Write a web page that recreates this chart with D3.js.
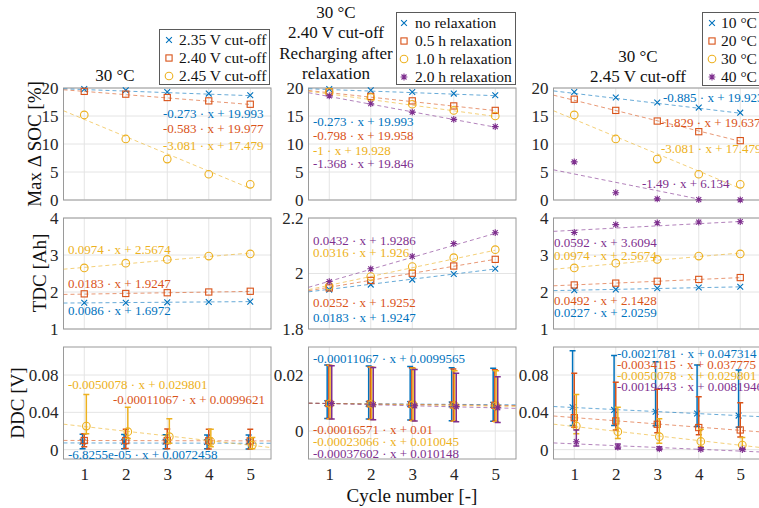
<!DOCTYPE html>
<html lang="en">
<head>
<meta charset="UTF-8">
<title>SOC, TDC and DDC per cycle</title>
<script src="https://d3js.org/d3.v7.min.js"></script>
<style>
    body { margin: 0; background: #fff; }
    text { font-family: "Liberation Serif", "Times New Roman", serif; }
</style>
</head>
<body>
<script>
    // ---- data ----
    const cycles = [1, 2, 3, 4, 5]

    const legendCutoff = ["2.35 V cut-off", "2.40 V cut-off", "2.45 V cut-off"]
    const legendRelax = ["no relaxation", "0.5 h relaxation", "1.0 h relaxation", "2.0 h relaxation"]
    const legendTemp = ["10 °C", "20 °C", "30 °C", "40 °C"]

    // Max delta SOC [%]
    const socCutoff = [
        [19.8, 19.6, 19.3, 19.0, 18.7],
        [19.4, 18.9, 18.3, 17.7, 17.1],
        [15.2, 10.9, 7.3, 4.6, 2.8]
    ]
    const socRelax = [
        [19.8, 19.6, 19.3, 19.0, 18.7],
        [19.3, 18.5, 17.7, 16.8, 16.0],
        [19.3, 18.3, 17.1, 16.0, 15.0],
        [18.6, 17.2, 15.7, 14.4, 13.1]
    ]
    const socTemp = [
        [19.3, 18.3, 17.4, 16.5, 15.6],
        [18.0, 16.0, 14.1, 12.2, 10.6],
        [15.2, 10.9, 7.3, 4.6, 2.8],
        [6.8, 1.3, 0.2, 0.05, 0.02]
    ]
    const socFitCutoff = [[-0.273, 19.993], [-0.583, 19.977], [-3.081, 17.479]]
    const socFitRelax = [[-0.273, 19.993], [-0.798, 19.958], [-1, 19.928], [-1.368, 19.846]]
    const socFitTemp = [[-0.885, 19.923], [-1.829, 19.637], [-3.081, 17.479], [-1.49, 6.134]]

    // TDC [Ah]
    const tdcCutoff = [
        [1.71, 1.71, 1.72, 1.73, 1.74],
        [1.95, 1.96, 1.98, 2.00, 2.02],
        [2.65, 2.78, 2.88, 2.97, 3.03]
    ]
    const tdcRelax = [
        [1.942, 1.960, 1.978, 1.998, 2.017],
        [1.948, 1.975, 2.001, 2.027, 2.051],
        [1.955, 1.989, 2.025, 2.057, 2.086],
        [1.971, 2.017, 2.062, 2.108, 2.147]
    ]
    const tdcTemp = [
        [2.05, 2.07, 2.10, 2.12, 2.14],
        [2.19, 2.24, 2.29, 2.34, 2.39],
        [2.65, 2.78, 2.88, 2.97, 3.03],
        [3.61, 3.82, 3.87, 3.89, 3.90]
    ]
    const tdcFitCutoff = [[0.0086, 1.6972], [0.0183, 1.9247], [0.0974, 2.5674]]
    const tdcFitRelax = [[0.0183, 1.9247], [0.0252, 1.9252], [0.0316, 1.926], [0.0432, 1.9286]]
    const tdcFitTemp = [[0.0227, 2.0259], [0.0492, 2.1428], [0.0974, 2.5674], [0.0592, 3.6094]]

    // DDC [V] with error bar ends
    const ddcCutoff = [
        [0.0085, 0.0084, 0.0085, 0.0083, 0.0082],
        [0.0098, 0.0097, 0.0096, 0.0095, 0.0094],
        [0.0253, 0.0193, 0.0139, 0.0088, 0.0050]
    ]
    const ddcCutoffLow = [
        [0.0010, 0.0011, 0.0010, 0.0009, 0.0008],
        [0.0030, 0.0012, 0.0010, 0.0008, 0.0006],
        [0.0170, 0.0120, 0.0070, 0.0030, 0.0010]
    ]
    const ddcCutoffHigh = [
        [0.0165, 0.0162, 0.0160, 0.0158, 0.0156],
        [0.0170, 0.0220, 0.0222, 0.0220, 0.0218],
        [0.0590, 0.0455, 0.0330, 0.0220, 0.0130]
    ]
    const ddcRelax = [
        [0.0099, 0.0097, 0.0096, 0.0095, 0.0094],
        [0.0098, 0.0097, 0.0095, 0.0093, 0.0092],
        [0.0098, 0.0096, 0.0094, 0.0091, 0.0089],
        [0.0098, 0.0094, 0.0090, 0.0087, 0.0083]
    ]
    const ddcRelaxLow = [
        [0.0045, 0.0043, 0.0039, 0.0037, 0.0035],
        [0.0045, 0.0042, 0.0038, 0.0036, 0.0035],
        [0.0044, 0.0041, 0.0037, 0.0035, 0.0033],
        [0.0043, 0.0040, 0.0036, 0.0033, 0.0030]
    ]
    const ddcRelaxHigh = [
        [0.0236, 0.0232, 0.0230, 0.0226, 0.0224],
        [0.0235, 0.0229, 0.0226, 0.0221, 0.0219],
        [0.0234, 0.0228, 0.0224, 0.0215, 0.0215],
        [0.0233, 0.0227, 0.0220, 0.0206, 0.0194]
    ]
    const ddcTemp = [
        [0.0454, 0.0426, 0.0407, 0.0388, 0.0365],
        [0.0343, 0.0308, 0.0272, 0.0237, 0.0211],
        [0.0253, 0.0193, 0.0139, 0.0088, 0.0050],
        [0.0085, 0.0027, 0.0009, 0.0004, 0.0002]
    ]
    const ddcTempLow = [
        [0.0260, 0.0258, 0.0255, 0.0248, 0.0240],
        [0.0240, 0.0210, 0.0180, 0.0160, 0.0135],
        [0.0170, 0.0120, 0.0070, 0.0030, 0.0010],
        [0.0040, 0.0010, 0.0002, 0.0000, 0.0000]
    ]
    const ddcTempHigh = [
        [0.1060, 0.1008, 0.0943, 0.0908, 0.0854],
        [0.0819, 0.0722, 0.0647, 0.0568, 0.0504],
        [0.0590, 0.0455, 0.0330, 0.0220, 0.0130],
        [0.0211, 0.0060, 0.0030, 0.0020, 0.0010]
    ]
    // small cycle offsets of the error bar series
    const ddcShiftSide = [-0.04, 0, 0.05, 0.05]
    const ddcShiftMid = [-0.05, -0.01, 0.02, 0.06]
    const ddcFitCutoff = [[-6.8255e-05, 0.0072458], [-0.00011067, 0.0099621], [-0.0050078, 0.029801]]
    const ddcFitRelax = [[-0.00011067, 0.0099565], [-0.00016571, 0.01], [-0.00023066, 0.010045], [-0.00037602, 0.010148]]
    const ddcFitTemp = [[-0.0021781, 0.047314], [-0.0034115, 0.037775], [-0.0050078, 0.029801], [-0.0019443, 0.0081946]]

    const socTicks = [0, 5, 10, 15, 20]
    const tdcTicks = [1, 2, 3, 4]
    const tdcTicksMid = [1.8, 2, 2.2]
    const ddcTicks = [0, 0.04, 0.08]
    const ddcTicksMid = [0, 0.02]

    // ---- layout ----
    const colors = ["#0072BD", "#D95319", "#EDB120", "#7E2F8E"]
    const markers = ["cross", "square", "circle", "asterisk"]
    const colX = [63.5, 308.5, 553.5]
    const plotW = 207.5
    const rowY = [[88, 200], [218, 329], [347, 459]]

    const svg = d3.select("body")
        .append("svg")
        .attr("width", 759)
        .attr("height", 508)

    const fmt = v => Math.abs(v) < 1e-4 ?
        v.toExponential(4).replace(/e([+-])(\d)$/, "e$10$2") : String(v)

    function drawMarker(g, type, cx, cy, color) {
        const m = g.append("g")
            .attr("transform", `translate(${cx},${cy})`)
            .attr("stroke", color)
            .attr("fill", "none")
            .attr("stroke-width", 1.1)
        if (type === "cross") m.append("path").attr("d", "M-2.9,-2.9L2.9,2.9M-2.9,2.9L2.9,-2.9")
        else if (type === "square") m.append("rect").attr("x", -3.1).attr("y", -3.1).attr("width", 6.2).attr("height", 6.2)
        else if (type === "circle") m.append("circle").attr("r", 3.8)
        else m.append("path").attr("d", "M0,-3.4V3.4M-3.4,0H3.4M-2.5,-2.5L2.5,2.5M-2.5,2.5L2.5,-2.5")
    }

    const panels = [
        {col: 0, row: 0, values: socCutoff, fits: socFitCutoff, domain: [0, 20], ticks: socTicks,
            notes: [[163, 117.5], [163, 132.5], [163, 149.5]]},
        {col: 1, row: 0, values: socRelax, fits: socFitRelax, domain: [0, 20], ticks: socTicks,
            notes: [[313, 125.5], [313, 139.5], [313, 154.5], [313, 167.5]]},
        {col: 2, row: 0, values: socTemp, fits: socFitTemp, domain: [0, 20], ticks: socTicks,
            notes: [[663, 101.5], [660, 126.5], [661, 152.5], [642, 187.5]]},
        {col: 0, row: 1, values: tdcCutoff, fits: tdcFitCutoff, domain: [1, 4], ticks: tdcTicks,
            notes: [[68, 314.5], [68, 287.5], [68, 253.5]]},
        {col: 1, row: 1, values: tdcRelax, fits: tdcFitRelax, domain: [1.8, 2.2], ticks: tdcTicksMid,
            notes: [[313, 321.5], [313, 306.5], [313, 256.5], [313, 244.5]]},
        {col: 2, row: 1, values: tdcTemp, fits: tdcFitTemp, domain: [1, 4], ticks: tdcTicks,
            notes: [[554, 316.5], [554, 304.5], [554, 259.5], [554, 246.5]]},
        {col: 0, row: 2, values: ddcCutoff, low: ddcCutoffLow, high: ddcCutoffHigh, shift: ddcShiftSide,
            fits: ddcFitCutoff, domain: [-0.01, 0.11], ticks: ddcTicks,
            notes: [[68, 458.5], [113, 403.5], [68, 388.5]]},
        {col: 1, row: 2, values: ddcRelax, low: ddcRelaxLow, high: ddcRelaxHigh, shift: ddcShiftMid,
            fits: ddcFitRelax, domain: [-0.01, 0.03], ticks: ddcTicksMid,
            notes: [[313, 362.5], [313, 433.5], [313, 445.5], [313, 457.5]]},
        {col: 2, row: 2, values: ddcTemp, low: ddcTempLow, high: ddcTempHigh, shift: ddcShiftSide,
            fits: ddcFitTemp, domain: [-0.01, 0.11], ticks: ddcTicks,
            notes: [[617, 357.5], [617, 368.5], [617, 379.5], [617, 390.5]]}
    ]

    panels.forEach((p, pi) => {
        const x0 = colX[p.col]
        const [yTop, yBottom] = rowY[p.row]
        const x = d3.scaleLinear().domain([0.5, 5.5]).range([x0, x0 + plotW])
        const y = d3.scaleLinear().domain(p.domain).range([yBottom, yTop])
        const g = svg.append("g")

        g.append("clipPath")
            .attr("id", "clip" + pi)
            .append("rect")
            .attr("x", x0).attr("y", yTop)
            .attr("width", plotW).attr("height", yBottom - yTop)

        // grid
        g.selectAll(".vgrid").data(cycles).enter().append("line")
            .attr("x1", d => x(d)).attr("x2", d => x(d))
            .attr("y1", yTop).attr("y2", yBottom)
            .attr("stroke", "#e4e4e4")
        g.selectAll(".hgrid").data(p.ticks).enter().append("line")
            .attr("x1", x0).attr("x2", x0 + plotW)
            .attr("y1", d => y(d)).attr("y2", d => y(d))
            .attr("stroke", "#e4e4e4")

        g.append("rect")
            .attr("x", x0).attr("y", yTop)
            .attr("width", plotW).attr("height", yBottom - yTop)
            .attr("fill", "none")
            .attr("stroke", "#9a9a9a")

        const yAxis = g.append("g")
            .attr("transform", `translate(${x0},0)`)
            .call(d3.axisLeft(y).tickValues(p.ticks).tickSize(0).tickPadding(5).tickFormat(d => String(d)))
        yAxis.select(".domain").remove()
        yAxis.selectAll("text")
            .attr("font-family", "Liberation Serif")
            .attr("font-size", 17)
            .attr("fill", "#262626")

        if (p.row === 2) {
            const xAxis = g.append("g")
                .attr("transform", `translate(0,${yBottom})`)
                .call(d3.axisBottom(x).tickValues(cycles).tickSize(0).tickPadding(9).tickFormat(d3.format("d")))
            xAxis.select(".domain").remove()
            xAxis.selectAll("text")
                .attr("font-family", "Liberation Serif")
                .attr("font-size", 17)
                .attr("fill", "#262626")
        }

        p.values.forEach((vals, si) => {
            const color = colors[si]
            const xEnd = p.row === 2 ? 5.5 : 5
            const [slope, icpt] = p.fits[si]

            g.append("line")
                .attr("clip-path", `url(#clip${pi})`)
                .attr("x1", x(0.5)).attr("y1", y(slope * 0.5 + icpt))
                .attr("x2", x(xEnd)).attr("y2", y(slope * xEnd + icpt))
                .attr("stroke", color)
                .attr("stroke-opacity", 0.6)
                .attr("stroke-dasharray", "4,3")

            vals.forEach((v, i) => {
                const cx = x(cycles[i] + (p.shift ? p.shift[si] : 0))
                if (p.low) {
                    const lo = y(p.low[si][i]), hi = y(p.high[si][i])
                    g.append("path")
                        .attr("d", `M${cx},${lo}V${hi}M${cx - 3},${lo}H${cx + 3}M${cx - 3},${hi}H${cx + 3}`)
                        .attr("stroke", color)
                        .attr("stroke-width", 1.5)
                        .attr("fill", "none")
                }
                drawMarker(g, markers[si], cx, y(v), color)
            })
        })

        p.notes.forEach((pos, si) => {
            const [slope, icpt] = p.fits[si]
            g.append("text")
                .attr("x", pos[0]).attr("y", pos[1])
                .attr("font-size", 13)
                .attr("fill", colors[si])
                .text(`${fmt(slope)} · x + ${fmt(icpt)}`)
        })
    })

    // titles
    const titleRows = [
        {x: 115, lines: [["30 °C", 81]]},
        {x: 336, lines: [["30 °C", 18], ["2.40 V cut-off", 38], ["Recharging after", 59], ["relaxation", 79]]},
        {x: 638, lines: [["30 °C", 62], ["2.45 V cut-off", 82]]}
    ]
    titleRows.forEach(t => t.lines.forEach(([s, ty]) => {
        svg.append("text")
            .attr("x", t.x).attr("y", ty)
            .attr("text-anchor", "middle")
            .attr("font-size", 17)
            .attr("fill", "#111")
            .text(s)
    }))

    // y labels
    const yLabels = [["Max Δ SOC [%]", 41, 144], ["TDC [Ah]", 46, 273], ["DDC [V]", 24, 403]]
    yLabels.forEach(([s, lx, ly]) => {
        svg.append("text")
            .attr("transform", `translate(${lx},${ly}) rotate(-90)`)
            .attr("text-anchor", "middle")
            .attr("font-size", 19)
            .attr("fill", "#111")
            .text(s)
    })

    svg.append("text")
        .attr("x", 412).attr("y", 502)
        .attr("text-anchor", "middle")
        .attr("font-size", 19)
        .attr("fill", "#111")
        .text("Cycle number [-]")

    // legends
    const legends = [
        {names: legendCutoff, x: 159.5, y: 29.5, w: 110, h: 55, y0: 40, mx: 169, tx: 179, step: 18},
        {names: legendRelax, x: 396.5, y: 12.5, w: 119, h: 72, y0: 23, mx: 404, tx: 415, step: 18},
        {names: legendTemp, x: 702.5, y: 12.5, w: 70, h: 73, y0: 23, mx: 712, tx: 721, step: 18}
    ]
    legends.forEach(l => {
        const lg = svg.append("g")
        lg.append("rect")
            .attr("x", l.x).attr("y", l.y)
            .attr("width", l.w).attr("height", l.h)
            .attr("fill", "#fff")
            .attr("stroke", "#5a5a5a")
        l.names.forEach((name, i) => {
            const ey = l.y0 + i * l.step
            drawMarker(lg, markers[i], l.mx, ey, colors[i])
            lg.append("text")
                .attr("x", l.tx).attr("y", ey + 5)
                .attr("font-size", 15.5)
                .attr("fill", "#111")
                .text(name)
        })
    })
</script>
</body>
</html>
